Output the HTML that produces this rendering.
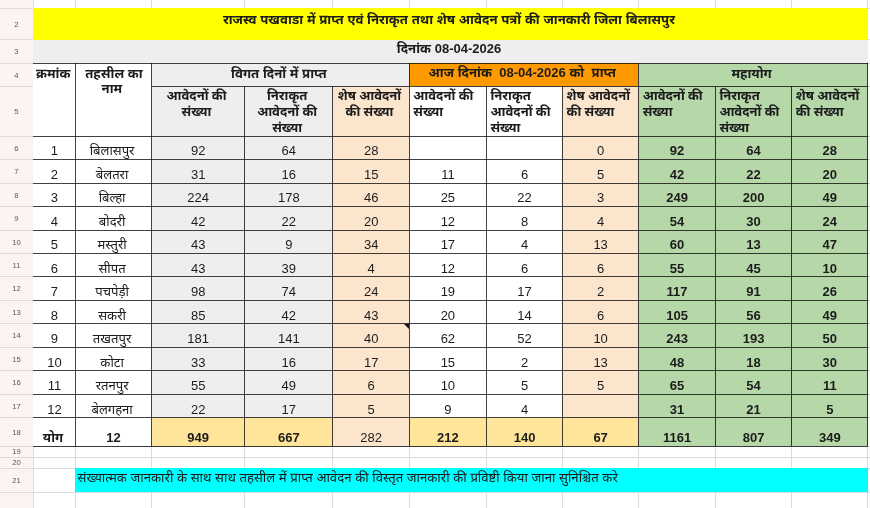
<!DOCTYPE html>
<html lang="hi"><head><meta charset="utf-8"><title>राजस्व पखवाडा</title>
<style>
html,body{margin:0;padding:0;background:#fff;}
body{width:870px;height:508px;overflow:hidden;position:relative;font-family:"Liberation Sans","Noto Sans Devanagari","Noto Sans Devanagari UI","Lohit Devanagari","Mukta","FreeSans",sans-serif;color:#1c1c1c;font-size:13px;}
.c{position:absolute;box-sizing:border-box;overflow:hidden;white-space:nowrap;line-height:16px;}
.l{position:absolute;}
.t{font-size:13.25px;}
.b{font-weight:bold;}
.t.b{font-size:13.2px;}
i{font-style:normal;font-size:13px;}
.ctr{text-align:center;padding-right:3px;}
.lft{text-align:left;padding-left:4.2px;}
.d{display:flex;align-items:flex-end;justify-content:center;padding-bottom:0.2px;padding-right:0;padding-left:0.4px;}
.d span{display:block;}
.hn{font-size:13.1px;padding-right:3px;}
.rn{position:absolute;left:0;width:33px;text-align:center;font-size:7.7px;line-height:12px;color:#5a5a5a;}
</style></head><body>
<div class="c " style="left:0.00px;top:0.00px;width:33.30px;height:508.00px;background:#fcf3f2;"></div>
<div class="l" style="left:0.00px;top:-15.50px;width:870.00px;height:1px;background:#dcdcdc"></div>
<div class="l" style="left:0.00px;top:7.90px;width:870.00px;height:1px;background:#dcdcdc"></div>
<div class="l" style="left:0.00px;top:39.30px;width:870.00px;height:1px;background:#dcdcdc"></div>
<div class="l" style="left:0.00px;top:62.90px;width:870.00px;height:1px;background:#dcdcdc"></div>
<div class="l" style="left:0.00px;top:85.50px;width:870.00px;height:1px;background:#dcdcdc"></div>
<div class="l" style="left:0.00px;top:135.60px;width:870.00px;height:1px;background:#dcdcdc"></div>
<div class="l" style="left:0.00px;top:159.07px;width:870.00px;height:1px;background:#dcdcdc"></div>
<div class="l" style="left:0.00px;top:182.55px;width:870.00px;height:1px;background:#dcdcdc"></div>
<div class="l" style="left:0.00px;top:206.03px;width:870.00px;height:1px;background:#dcdcdc"></div>
<div class="l" style="left:0.00px;top:229.50px;width:870.00px;height:1px;background:#dcdcdc"></div>
<div class="l" style="left:0.00px;top:252.98px;width:870.00px;height:1px;background:#dcdcdc"></div>
<div class="l" style="left:0.00px;top:276.45px;width:870.00px;height:1px;background:#dcdcdc"></div>
<div class="l" style="left:0.00px;top:299.93px;width:870.00px;height:1px;background:#dcdcdc"></div>
<div class="l" style="left:0.00px;top:323.40px;width:870.00px;height:1px;background:#dcdcdc"></div>
<div class="l" style="left:0.00px;top:346.88px;width:870.00px;height:1px;background:#dcdcdc"></div>
<div class="l" style="left:0.00px;top:370.35px;width:870.00px;height:1px;background:#dcdcdc"></div>
<div class="l" style="left:0.00px;top:393.83px;width:870.00px;height:1px;background:#dcdcdc"></div>
<div class="l" style="left:0.00px;top:417.30px;width:870.00px;height:1px;background:#dcdcdc"></div>
<div class="l" style="left:0.00px;top:445.70px;width:870.00px;height:1px;background:#dcdcdc"></div>
<div class="l" style="left:0.00px;top:456.60px;width:870.00px;height:1px;background:#dcdcdc"></div>
<div class="l" style="left:0.00px;top:467.70px;width:870.00px;height:1px;background:#dcdcdc"></div>
<div class="l" style="left:0.00px;top:492.00px;width:870.00px;height:1px;background:#dcdcdc"></div>
<div class="l" style="left:32.80px;top:0.00px;width:1px;height:508.00px;background:#dcdcdc"></div>
<div class="l" style="left:74.70px;top:0.00px;width:1px;height:508.00px;background:#dcdcdc"></div>
<div class="l" style="left:151.10px;top:0.00px;width:1px;height:508.00px;background:#dcdcdc"></div>
<div class="l" style="left:243.90px;top:0.00px;width:1px;height:508.00px;background:#dcdcdc"></div>
<div class="l" style="left:332.40px;top:0.00px;width:1px;height:508.00px;background:#dcdcdc"></div>
<div class="l" style="left:408.60px;top:0.00px;width:1px;height:508.00px;background:#dcdcdc"></div>
<div class="l" style="left:485.80px;top:0.00px;width:1px;height:508.00px;background:#dcdcdc"></div>
<div class="l" style="left:561.90px;top:0.00px;width:1px;height:508.00px;background:#dcdcdc"></div>
<div class="l" style="left:638.00px;top:0.00px;width:1px;height:508.00px;background:#dcdcdc"></div>
<div class="l" style="left:714.70px;top:0.00px;width:1px;height:508.00px;background:#dcdcdc"></div>
<div class="l" style="left:791.10px;top:0.00px;width:1px;height:508.00px;background:#dcdcdc"></div>
<div class="l" style="left:867.20px;top:0.00px;width:1px;height:508.00px;background:#dcdcdc"></div>
<div class="rn" style="top:18.90px">2</div>
<div class="rn" style="top:46.40px">3</div>
<div class="rn" style="top:69.50px">4</div>
<div class="rn" style="top:105.85px">5</div>
<div class="rn" style="top:142.64px">6</div>
<div class="rn" style="top:166.11px">7</div>
<div class="rn" style="top:189.59px">8</div>
<div class="rn" style="top:213.06px">9</div>
<div class="rn" style="top:236.54px">10</div>
<div class="rn" style="top:260.01px">11</div>
<div class="rn" style="top:283.49px">12</div>
<div class="rn" style="top:306.96px">13</div>
<div class="rn" style="top:330.44px">14</div>
<div class="rn" style="top:353.91px">15</div>
<div class="rn" style="top:377.39px">16</div>
<div class="rn" style="top:400.86px">17</div>
<div class="rn" style="top:426.80px">18</div>
<div class="rn" style="top:446.45px">19</div>
<div class="rn" style="top:457.45px">20</div>
<div class="rn" style="top:475.15px">21</div>
<div class="c t b ctr" style="left:33.30px;top:8.40px;width:834.40px;height:31.40px;background:#ffff00;padding-top:3.5px;padding-left:0px;font-size:13.22px"><span>राजस्व पखवाडा में प्राप्त एवं निराकृत तथा शेष आवेदन पत्रों की जानकारी जिला बिलासपुर</span></div>
<div class="c t b ctr" style="left:33.30px;top:39.80px;width:834.40px;height:23.60px;background:#eeeeee;padding-top:1.5px"><span>दिनांक <i>08-04-2026</i></span></div>
<div class="c t b ctr" style="left:33.30px;top:63.40px;width:41.90px;height:72.70px;background:#fff;padding-top:2.3px;padding-right:2px">क्रमांक</div>
<div class="c t b ctr" style="left:75.20px;top:63.40px;width:76.40px;height:72.70px;background:#fff;padding-top:2.3px;line-height:15.7px"><span style='padding-left:4px'>तहसील का</span><br>नाम</div>
<div class="c t b ctr" style="left:151.60px;top:63.40px;width:257.50px;height:22.60px;background:#eeeeee;padding-top:2.2px">विगत दिनों में प्राप्त</div>
<div class="c t b ctr" style="left:409.10px;top:63.40px;width:229.40px;height:22.60px;background:#ff9900;padding-top:2px">आज दिनांक&nbsp; <i>08-04-2026</i> को&nbsp; प्राप्त</div>
<div class="c t b ctr" style="left:638.50px;top:63.40px;width:229.20px;height:22.60px;background:#b6d7a8;padding-top:2.2px">महायोग</div>
<div class="c t b ctr" style="left:151.60px;top:86.00px;width:92.80px;height:50.10px;background:#eeeeee;padding-top:2.2px;font-size:13.05px;word-spacing:-0.3px;line-height:15.9px">आवेदनों की<br>संख्या</div>
<div class="c t b ctr" style="left:244.40px;top:86.00px;width:88.50px;height:50.10px;background:#eeeeee;padding-top:2.2px;font-size:13.05px;word-spacing:-0.3px;line-height:15.9px">निराकृत<br>आवेदनों की<br>संख्या</div>
<div class="c t b ctr" style="left:332.90px;top:86.00px;width:76.20px;height:50.10px;background:#fce5cd;padding-top:2.2px;font-size:13.05px;word-spacing:-0.3px;line-height:15.9px">शेष आवेदनों<br>की संख्या</div>
<div class="c t b lft" style="left:409.10px;top:86.00px;width:77.20px;height:50.10px;background:#fff;padding-top:2.2px;font-size:13.05px;word-spacing:-0.3px;line-height:15.9px">आवेदनों की<br>संख्या</div>
<div class="c t b lft" style="left:486.30px;top:86.00px;width:76.10px;height:50.10px;background:#fff;padding-top:2.2px;font-size:13.05px;word-spacing:-0.3px;line-height:15.9px">निराकृत<br>आवेदनों की<br>संख्या</div>
<div class="c t b lft" style="left:562.40px;top:86.00px;width:76.10px;height:50.10px;background:#fce5cd;padding-top:2.2px;font-size:13.05px;word-spacing:-0.3px;line-height:15.9px">शेष आवेदनों<br>की संख्या</div>
<div class="c t b lft" style="left:638.50px;top:86.00px;width:76.70px;height:50.10px;background:#b6d7a8;padding-top:2.2px;font-size:13.05px;word-spacing:-0.3px;line-height:15.9px">आवेदनों की<br>संख्या</div>
<div class="c t b lft" style="left:715.20px;top:86.00px;width:76.40px;height:50.10px;background:#b6d7a8;padding-top:2.2px;font-size:13.05px;word-spacing:-0.3px;line-height:15.9px">निराकृत<br>आवेदनों की<br>संख्या</div>
<div class="c t b lft" style="left:791.60px;top:86.00px;width:76.10px;height:50.10px;background:#b6d7a8;padding-top:2.2px;font-size:13.05px;word-spacing:-0.3px;line-height:15.9px">शेष आवेदनों<br>की संख्या</div>
<div class="c d ctr" style="left:33.30px;top:136.10px;width:41.90px;height:23.47px;background:#fff;"><span>1</span></div>
<div class="c d ctr hn" style="left:75.20px;top:136.10px;width:76.40px;height:23.47px;background:#fff;"><span>बिलासपुर</span></div>
<div class="c d ctr" style="left:151.60px;top:136.10px;width:92.80px;height:23.47px;background:#eeeeee;"><span>92</span></div>
<div class="c d ctr" style="left:244.40px;top:136.10px;width:88.50px;height:23.47px;background:#eeeeee;"><span>64</span></div>
<div class="c d ctr" style="left:332.90px;top:136.10px;width:76.20px;height:23.47px;background:#fce5cd;"><span>28</span></div>
<div class="c d ctr" style="left:409.10px;top:136.10px;width:77.20px;height:23.47px;background:#fff;"><span></span></div>
<div class="c d ctr" style="left:486.30px;top:136.10px;width:76.10px;height:23.47px;background:#fff;"><span></span></div>
<div class="c d ctr" style="left:562.40px;top:136.10px;width:76.10px;height:23.47px;background:#fce5cd;"><span>0</span></div>
<div class="c d ctr b" style="left:638.50px;top:136.10px;width:76.70px;height:23.47px;background:#b6d7a8;"><span>92</span></div>
<div class="c d ctr b" style="left:715.20px;top:136.10px;width:76.40px;height:23.47px;background:#b6d7a8;"><span>64</span></div>
<div class="c d ctr b" style="left:791.60px;top:136.10px;width:76.10px;height:23.47px;background:#b6d7a8;"><span>28</span></div>
<div class="c d ctr" style="left:33.30px;top:159.57px;width:41.90px;height:23.48px;background:#fff;"><span>2</span></div>
<div class="c d ctr hn" style="left:75.20px;top:159.57px;width:76.40px;height:23.48px;background:#fff;"><span>बेलतरा</span></div>
<div class="c d ctr" style="left:151.60px;top:159.57px;width:92.80px;height:23.48px;background:#eeeeee;"><span>31</span></div>
<div class="c d ctr" style="left:244.40px;top:159.57px;width:88.50px;height:23.48px;background:#eeeeee;"><span>16</span></div>
<div class="c d ctr" style="left:332.90px;top:159.57px;width:76.20px;height:23.48px;background:#fce5cd;"><span>15</span></div>
<div class="c d ctr" style="left:409.10px;top:159.57px;width:77.20px;height:23.48px;background:#fff;"><span>11</span></div>
<div class="c d ctr" style="left:486.30px;top:159.57px;width:76.10px;height:23.48px;background:#fff;"><span>6</span></div>
<div class="c d ctr" style="left:562.40px;top:159.57px;width:76.10px;height:23.48px;background:#fce5cd;"><span>5</span></div>
<div class="c d ctr b" style="left:638.50px;top:159.57px;width:76.70px;height:23.48px;background:#b6d7a8;"><span>42</span></div>
<div class="c d ctr b" style="left:715.20px;top:159.57px;width:76.40px;height:23.48px;background:#b6d7a8;"><span>22</span></div>
<div class="c d ctr b" style="left:791.60px;top:159.57px;width:76.10px;height:23.48px;background:#b6d7a8;"><span>20</span></div>
<div class="c d ctr" style="left:33.30px;top:183.05px;width:41.90px;height:23.47px;background:#fff;"><span>3</span></div>
<div class="c d ctr hn" style="left:75.20px;top:183.05px;width:76.40px;height:23.47px;background:#fff;"><span>बिल्हा</span></div>
<div class="c d ctr" style="left:151.60px;top:183.05px;width:92.80px;height:23.47px;background:#eeeeee;"><span>224</span></div>
<div class="c d ctr" style="left:244.40px;top:183.05px;width:88.50px;height:23.47px;background:#eeeeee;"><span>178</span></div>
<div class="c d ctr" style="left:332.90px;top:183.05px;width:76.20px;height:23.47px;background:#fce5cd;"><span>46</span></div>
<div class="c d ctr" style="left:409.10px;top:183.05px;width:77.20px;height:23.47px;background:#fff;"><span>25</span></div>
<div class="c d ctr" style="left:486.30px;top:183.05px;width:76.10px;height:23.47px;background:#fff;"><span>22</span></div>
<div class="c d ctr" style="left:562.40px;top:183.05px;width:76.10px;height:23.47px;background:#fce5cd;"><span>3</span></div>
<div class="c d ctr b" style="left:638.50px;top:183.05px;width:76.70px;height:23.47px;background:#b6d7a8;"><span>249</span></div>
<div class="c d ctr b" style="left:715.20px;top:183.05px;width:76.40px;height:23.47px;background:#b6d7a8;"><span>200</span></div>
<div class="c d ctr b" style="left:791.60px;top:183.05px;width:76.10px;height:23.47px;background:#b6d7a8;"><span>49</span></div>
<div class="c d ctr" style="left:33.30px;top:206.53px;width:41.90px;height:23.47px;background:#fff;"><span>4</span></div>
<div class="c d ctr hn" style="left:75.20px;top:206.53px;width:76.40px;height:23.47px;background:#fff;"><span>बोदरी</span></div>
<div class="c d ctr" style="left:151.60px;top:206.53px;width:92.80px;height:23.47px;background:#eeeeee;"><span>42</span></div>
<div class="c d ctr" style="left:244.40px;top:206.53px;width:88.50px;height:23.47px;background:#eeeeee;"><span>22</span></div>
<div class="c d ctr" style="left:332.90px;top:206.53px;width:76.20px;height:23.47px;background:#fce5cd;"><span>20</span></div>
<div class="c d ctr" style="left:409.10px;top:206.53px;width:77.20px;height:23.47px;background:#fff;"><span>12</span></div>
<div class="c d ctr" style="left:486.30px;top:206.53px;width:76.10px;height:23.47px;background:#fff;"><span>8</span></div>
<div class="c d ctr" style="left:562.40px;top:206.53px;width:76.10px;height:23.47px;background:#fce5cd;"><span>4</span></div>
<div class="c d ctr b" style="left:638.50px;top:206.53px;width:76.70px;height:23.47px;background:#b6d7a8;"><span>54</span></div>
<div class="c d ctr b" style="left:715.20px;top:206.53px;width:76.40px;height:23.47px;background:#b6d7a8;"><span>30</span></div>
<div class="c d ctr b" style="left:791.60px;top:206.53px;width:76.10px;height:23.47px;background:#b6d7a8;"><span>24</span></div>
<div class="c d ctr" style="left:33.30px;top:230.00px;width:41.90px;height:23.48px;background:#fff;"><span>5</span></div>
<div class="c d ctr hn" style="left:75.20px;top:230.00px;width:76.40px;height:23.48px;background:#fff;"><span>मस्तुरी</span></div>
<div class="c d ctr" style="left:151.60px;top:230.00px;width:92.80px;height:23.48px;background:#eeeeee;"><span>43</span></div>
<div class="c d ctr" style="left:244.40px;top:230.00px;width:88.50px;height:23.48px;background:#eeeeee;"><span>9</span></div>
<div class="c d ctr" style="left:332.90px;top:230.00px;width:76.20px;height:23.48px;background:#fce5cd;"><span>34</span></div>
<div class="c d ctr" style="left:409.10px;top:230.00px;width:77.20px;height:23.48px;background:#fff;"><span>17</span></div>
<div class="c d ctr" style="left:486.30px;top:230.00px;width:76.10px;height:23.48px;background:#fff;"><span>4</span></div>
<div class="c d ctr" style="left:562.40px;top:230.00px;width:76.10px;height:23.48px;background:#fce5cd;"><span>13</span></div>
<div class="c d ctr b" style="left:638.50px;top:230.00px;width:76.70px;height:23.48px;background:#b6d7a8;"><span>60</span></div>
<div class="c d ctr b" style="left:715.20px;top:230.00px;width:76.40px;height:23.48px;background:#b6d7a8;"><span>13</span></div>
<div class="c d ctr b" style="left:791.60px;top:230.00px;width:76.10px;height:23.48px;background:#b6d7a8;"><span>47</span></div>
<div class="c d ctr" style="left:33.30px;top:253.48px;width:41.90px;height:23.48px;background:#fff;"><span>6</span></div>
<div class="c d ctr hn" style="left:75.20px;top:253.48px;width:76.40px;height:23.48px;background:#fff;"><span>सीपत</span></div>
<div class="c d ctr" style="left:151.60px;top:253.48px;width:92.80px;height:23.48px;background:#eeeeee;"><span>43</span></div>
<div class="c d ctr" style="left:244.40px;top:253.48px;width:88.50px;height:23.48px;background:#eeeeee;"><span>39</span></div>
<div class="c d ctr" style="left:332.90px;top:253.48px;width:76.20px;height:23.48px;background:#fce5cd;"><span>4</span></div>
<div class="c d ctr" style="left:409.10px;top:253.48px;width:77.20px;height:23.48px;background:#fff;"><span>12</span></div>
<div class="c d ctr" style="left:486.30px;top:253.48px;width:76.10px;height:23.48px;background:#fff;"><span>6</span></div>
<div class="c d ctr" style="left:562.40px;top:253.48px;width:76.10px;height:23.48px;background:#fce5cd;"><span>6</span></div>
<div class="c d ctr b" style="left:638.50px;top:253.48px;width:76.70px;height:23.48px;background:#b6d7a8;"><span>55</span></div>
<div class="c d ctr b" style="left:715.20px;top:253.48px;width:76.40px;height:23.48px;background:#b6d7a8;"><span>45</span></div>
<div class="c d ctr b" style="left:791.60px;top:253.48px;width:76.10px;height:23.48px;background:#b6d7a8;"><span>10</span></div>
<div class="c d ctr" style="left:33.30px;top:276.95px;width:41.90px;height:23.48px;background:#fff;"><span>7</span></div>
<div class="c d ctr hn" style="left:75.20px;top:276.95px;width:76.40px;height:23.48px;background:#fff;"><span>पचपेड़ी</span></div>
<div class="c d ctr" style="left:151.60px;top:276.95px;width:92.80px;height:23.48px;background:#eeeeee;"><span>98</span></div>
<div class="c d ctr" style="left:244.40px;top:276.95px;width:88.50px;height:23.48px;background:#eeeeee;"><span>74</span></div>
<div class="c d ctr" style="left:332.90px;top:276.95px;width:76.20px;height:23.48px;background:#fce5cd;"><span>24</span></div>
<div class="c d ctr" style="left:409.10px;top:276.95px;width:77.20px;height:23.48px;background:#fff;"><span>19</span></div>
<div class="c d ctr" style="left:486.30px;top:276.95px;width:76.10px;height:23.48px;background:#fff;"><span>17</span></div>
<div class="c d ctr" style="left:562.40px;top:276.95px;width:76.10px;height:23.48px;background:#fce5cd;"><span>2</span></div>
<div class="c d ctr b" style="left:638.50px;top:276.95px;width:76.70px;height:23.48px;background:#b6d7a8;"><span>117</span></div>
<div class="c d ctr b" style="left:715.20px;top:276.95px;width:76.40px;height:23.48px;background:#b6d7a8;"><span>91</span></div>
<div class="c d ctr b" style="left:791.60px;top:276.95px;width:76.10px;height:23.48px;background:#b6d7a8;"><span>26</span></div>
<div class="c d ctr" style="left:33.30px;top:300.43px;width:41.90px;height:23.47px;background:#fff;"><span>8</span></div>
<div class="c d ctr hn" style="left:75.20px;top:300.43px;width:76.40px;height:23.47px;background:#fff;"><span>सकरी</span></div>
<div class="c d ctr" style="left:151.60px;top:300.43px;width:92.80px;height:23.47px;background:#eeeeee;"><span>85</span></div>
<div class="c d ctr" style="left:244.40px;top:300.43px;width:88.50px;height:23.47px;background:#eeeeee;"><span>42</span></div>
<div class="c d ctr" style="left:332.90px;top:300.43px;width:76.20px;height:23.47px;background:#fce5cd;"><span>43</span></div>
<div class="c d ctr" style="left:409.10px;top:300.43px;width:77.20px;height:23.47px;background:#fff;"><span>20</span></div>
<div class="c d ctr" style="left:486.30px;top:300.43px;width:76.10px;height:23.47px;background:#fff;"><span>14</span></div>
<div class="c d ctr" style="left:562.40px;top:300.43px;width:76.10px;height:23.47px;background:#fce5cd;"><span>6</span></div>
<div class="c d ctr b" style="left:638.50px;top:300.43px;width:76.70px;height:23.47px;background:#b6d7a8;"><span>105</span></div>
<div class="c d ctr b" style="left:715.20px;top:300.43px;width:76.40px;height:23.47px;background:#b6d7a8;"><span>56</span></div>
<div class="c d ctr b" style="left:791.60px;top:300.43px;width:76.10px;height:23.47px;background:#b6d7a8;"><span>49</span></div>
<div class="c d ctr" style="left:33.30px;top:323.90px;width:41.90px;height:23.47px;background:#fff;"><span>9</span></div>
<div class="c d ctr hn" style="left:75.20px;top:323.90px;width:76.40px;height:23.47px;background:#fff;"><span>तखतपुर</span></div>
<div class="c d ctr" style="left:151.60px;top:323.90px;width:92.80px;height:23.47px;background:#eeeeee;"><span>181</span></div>
<div class="c d ctr" style="left:244.40px;top:323.90px;width:88.50px;height:23.47px;background:#eeeeee;"><span>141</span></div>
<div class="c d ctr" style="left:332.90px;top:323.90px;width:76.20px;height:23.47px;background:#fce5cd;"><span>40</span></div>
<div class="c d ctr" style="left:409.10px;top:323.90px;width:77.20px;height:23.47px;background:#fff;"><span>62</span></div>
<div class="c d ctr" style="left:486.30px;top:323.90px;width:76.10px;height:23.47px;background:#fff;"><span>52</span></div>
<div class="c d ctr" style="left:562.40px;top:323.90px;width:76.10px;height:23.47px;background:#fce5cd;"><span>10</span></div>
<div class="c d ctr b" style="left:638.50px;top:323.90px;width:76.70px;height:23.47px;background:#b6d7a8;"><span>243</span></div>
<div class="c d ctr b" style="left:715.20px;top:323.90px;width:76.40px;height:23.47px;background:#b6d7a8;"><span>193</span></div>
<div class="c d ctr b" style="left:791.60px;top:323.90px;width:76.10px;height:23.47px;background:#b6d7a8;"><span>50</span></div>
<div class="c d ctr" style="left:33.30px;top:347.38px;width:41.90px;height:23.48px;background:#fff;"><span>10</span></div>
<div class="c d ctr hn" style="left:75.20px;top:347.38px;width:76.40px;height:23.48px;background:#fff;"><span>कोटा</span></div>
<div class="c d ctr" style="left:151.60px;top:347.38px;width:92.80px;height:23.48px;background:#eeeeee;"><span>33</span></div>
<div class="c d ctr" style="left:244.40px;top:347.38px;width:88.50px;height:23.48px;background:#eeeeee;"><span>16</span></div>
<div class="c d ctr" style="left:332.90px;top:347.38px;width:76.20px;height:23.48px;background:#fce5cd;"><span>17</span></div>
<div class="c d ctr" style="left:409.10px;top:347.38px;width:77.20px;height:23.48px;background:#fff;"><span>15</span></div>
<div class="c d ctr" style="left:486.30px;top:347.38px;width:76.10px;height:23.48px;background:#fff;"><span>2</span></div>
<div class="c d ctr" style="left:562.40px;top:347.38px;width:76.10px;height:23.48px;background:#fce5cd;"><span>13</span></div>
<div class="c d ctr b" style="left:638.50px;top:347.38px;width:76.70px;height:23.48px;background:#b6d7a8;"><span>48</span></div>
<div class="c d ctr b" style="left:715.20px;top:347.38px;width:76.40px;height:23.48px;background:#b6d7a8;"><span>18</span></div>
<div class="c d ctr b" style="left:791.60px;top:347.38px;width:76.10px;height:23.48px;background:#b6d7a8;"><span>30</span></div>
<div class="c d ctr" style="left:33.30px;top:370.85px;width:41.90px;height:23.48px;background:#fff;"><span>11</span></div>
<div class="c d ctr hn" style="left:75.20px;top:370.85px;width:76.40px;height:23.48px;background:#fff;"><span>रतनपुर</span></div>
<div class="c d ctr" style="left:151.60px;top:370.85px;width:92.80px;height:23.48px;background:#eeeeee;"><span>55</span></div>
<div class="c d ctr" style="left:244.40px;top:370.85px;width:88.50px;height:23.48px;background:#eeeeee;"><span>49</span></div>
<div class="c d ctr" style="left:332.90px;top:370.85px;width:76.20px;height:23.48px;background:#fce5cd;"><span>6</span></div>
<div class="c d ctr" style="left:409.10px;top:370.85px;width:77.20px;height:23.48px;background:#fff;"><span>10</span></div>
<div class="c d ctr" style="left:486.30px;top:370.85px;width:76.10px;height:23.48px;background:#fff;"><span>5</span></div>
<div class="c d ctr" style="left:562.40px;top:370.85px;width:76.10px;height:23.48px;background:#fce5cd;"><span>5</span></div>
<div class="c d ctr b" style="left:638.50px;top:370.85px;width:76.70px;height:23.48px;background:#b6d7a8;"><span>65</span></div>
<div class="c d ctr b" style="left:715.20px;top:370.85px;width:76.40px;height:23.48px;background:#b6d7a8;"><span>54</span></div>
<div class="c d ctr b" style="left:791.60px;top:370.85px;width:76.10px;height:23.48px;background:#b6d7a8;"><span>11</span></div>
<div class="c d ctr" style="left:33.30px;top:394.33px;width:41.90px;height:23.48px;background:#fff;"><span>12</span></div>
<div class="c d ctr hn" style="left:75.20px;top:394.33px;width:76.40px;height:23.48px;background:#fff;"><span>बेलगहना</span></div>
<div class="c d ctr" style="left:151.60px;top:394.33px;width:92.80px;height:23.48px;background:#eeeeee;"><span>22</span></div>
<div class="c d ctr" style="left:244.40px;top:394.33px;width:88.50px;height:23.48px;background:#eeeeee;"><span>17</span></div>
<div class="c d ctr" style="left:332.90px;top:394.33px;width:76.20px;height:23.48px;background:#fce5cd;"><span>5</span></div>
<div class="c d ctr" style="left:409.10px;top:394.33px;width:77.20px;height:23.48px;background:#fff;"><span>9</span></div>
<div class="c d ctr" style="left:486.30px;top:394.33px;width:76.10px;height:23.48px;background:#fff;"><span>4</span></div>
<div class="c d ctr" style="left:562.40px;top:394.33px;width:76.10px;height:23.48px;background:#fce5cd;"><span></span></div>
<div class="c d ctr b" style="left:638.50px;top:394.33px;width:76.70px;height:23.48px;background:#b6d7a8;"><span>31</span></div>
<div class="c d ctr b" style="left:715.20px;top:394.33px;width:76.40px;height:23.48px;background:#b6d7a8;"><span>21</span></div>
<div class="c d ctr b" style="left:791.60px;top:394.33px;width:76.10px;height:23.48px;background:#b6d7a8;"><span>5</span></div>
<div class="c d tot ctr b hn" style="left:33.30px;top:417.80px;width:41.90px;height:28.40px;background:#fff;"><span>योग</span></div>
<div class="c d tot ctr b" style="left:75.20px;top:417.80px;width:76.40px;height:28.40px;background:#fff;"><span>12</span></div>
<div class="c d tot ctr b" style="left:151.60px;top:417.80px;width:92.80px;height:28.40px;background:#ffe599;"><span>949</span></div>
<div class="c d tot ctr b" style="left:244.40px;top:417.80px;width:88.50px;height:28.40px;background:#ffe599;"><span>667</span></div>
<div class="c d tot ctr" style="left:332.90px;top:417.80px;width:76.20px;height:28.40px;background:#fce5cd;"><span>282</span></div>
<div class="c d tot ctr b" style="left:409.10px;top:417.80px;width:77.20px;height:28.40px;background:#ffe599;"><span>212</span></div>
<div class="c d tot ctr b" style="left:486.30px;top:417.80px;width:76.10px;height:28.40px;background:#ffe599;"><span>140</span></div>
<div class="c d tot ctr b" style="left:562.40px;top:417.80px;width:76.10px;height:28.40px;background:#ffe599;"><span>67</span></div>
<div class="c d tot ctr b" style="left:638.50px;top:417.80px;width:76.70px;height:28.40px;background:#b6d7a8;"><span>1161</span></div>
<div class="c d tot ctr b" style="left:715.20px;top:417.80px;width:76.40px;height:28.40px;background:#b6d7a8;"><span>807</span></div>
<div class="c d tot ctr b" style="left:791.60px;top:417.80px;width:76.10px;height:28.40px;background:#b6d7a8;"><span>349</span></div>
<div class="c t lft" style="left:75.20px;top:468.20px;width:792.50px;height:24.30px;background:#00ffff;padding-top:2px;padding-left:2.4px;font-size:13.17px">संख्यात्मक जानकारी के साथ साथ तहसील में प्राप्त आवेदन की विस्तृत जानकारी की प्रविष्टी किया जाना सुनिश्चित करे</div>
<div class="l" style="left:33.30px;top:62.90px;width:834.40px;height:1px;background:rgba(0,0,0,0.74)"></div>
<div class="l" style="left:151.60px;top:85.50px;width:716.10px;height:1px;background:rgba(0,0,0,0.74)"></div>
<div class="l" style="left:33.30px;top:135.60px;width:834.40px;height:1px;background:rgba(0,0,0,0.74)"></div>
<div class="l" style="left:33.30px;top:159.07px;width:834.40px;height:1px;background:rgba(0,0,0,0.74)"></div>
<div class="l" style="left:33.30px;top:182.55px;width:834.40px;height:1px;background:rgba(0,0,0,0.74)"></div>
<div class="l" style="left:33.30px;top:206.03px;width:834.40px;height:1px;background:rgba(0,0,0,0.74)"></div>
<div class="l" style="left:33.30px;top:229.50px;width:834.40px;height:1px;background:rgba(0,0,0,0.74)"></div>
<div class="l" style="left:33.30px;top:252.98px;width:834.40px;height:1px;background:rgba(0,0,0,0.74)"></div>
<div class="l" style="left:33.30px;top:276.45px;width:834.40px;height:1px;background:rgba(0,0,0,0.74)"></div>
<div class="l" style="left:33.30px;top:299.93px;width:834.40px;height:1px;background:rgba(0,0,0,0.74)"></div>
<div class="l" style="left:33.30px;top:323.40px;width:834.40px;height:1px;background:rgba(0,0,0,0.74)"></div>
<div class="l" style="left:33.30px;top:346.88px;width:834.40px;height:1px;background:rgba(0,0,0,0.74)"></div>
<div class="l" style="left:33.30px;top:370.35px;width:834.40px;height:1px;background:rgba(0,0,0,0.74)"></div>
<div class="l" style="left:33.30px;top:393.83px;width:834.40px;height:1px;background:rgba(0,0,0,0.74)"></div>
<div class="l" style="left:33.30px;top:417.30px;width:834.40px;height:1px;background:rgba(0,0,0,0.74)"></div>
<div class="l" style="left:33.30px;top:445.70px;width:834.40px;height:1px;background:rgba(0,0,0,0.74)"></div>
<div class="l" style="left:74.70px;top:63.40px;width:1px;height:382.80px;background:rgba(0,0,0,0.74)"></div>
<div class="l" style="left:151.10px;top:63.40px;width:1px;height:382.80px;background:rgba(0,0,0,0.74)"></div>
<div class="l" style="left:243.90px;top:86.00px;width:1px;height:360.20px;background:rgba(0,0,0,0.74)"></div>
<div class="l" style="left:332.40px;top:86.00px;width:1px;height:360.20px;background:rgba(0,0,0,0.74)"></div>
<div class="l" style="left:408.60px;top:63.40px;width:1px;height:382.80px;background:rgba(0,0,0,0.74)"></div>
<div class="l" style="left:485.80px;top:86.00px;width:1px;height:360.20px;background:rgba(0,0,0,0.74)"></div>
<div class="l" style="left:561.90px;top:86.00px;width:1px;height:360.20px;background:rgba(0,0,0,0.74)"></div>
<div class="l" style="left:638.00px;top:63.40px;width:1px;height:382.80px;background:rgba(0,0,0,0.74)"></div>
<div class="l" style="left:714.70px;top:86.00px;width:1px;height:360.20px;background:rgba(0,0,0,0.74)"></div>
<div class="l" style="left:791.10px;top:86.00px;width:1px;height:360.20px;background:rgba(0,0,0,0.74)"></div>
<div class="l" style="left:867.20px;top:63.40px;width:1px;height:382.80px;background:rgba(0,0,0,0.74)"></div>
<div class="l" style="left:403.90px;top:324.20px;width:0;height:0;border-left:5px solid transparent;border-top:5px solid #111;"></div>
</body></html>
